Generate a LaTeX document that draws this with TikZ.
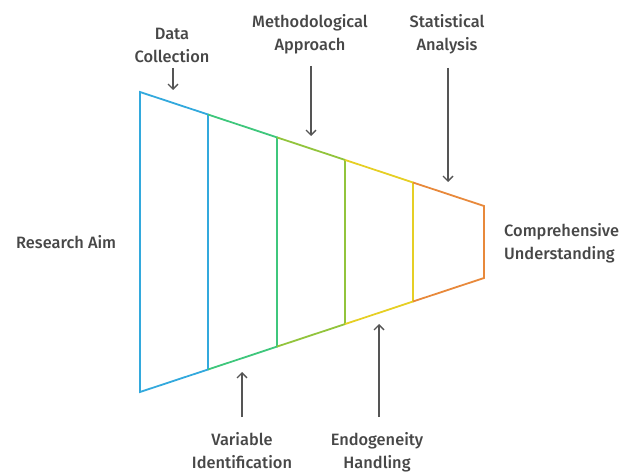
\documentclass[tikz,border=0pt]{standalone}
\usepackage{fontspec}
\setmainfont{Fira Sans}[UprightFont={* Medium}]
\usetikzlibrary{arrows.meta}
\definecolor{cA}{HTML}{33A9DD}
\definecolor{cB}{HTML}{3FC77C}
\definecolor{cC}{HTML}{92C43C}
\definecolor{cD}{HTML}{E6CF25}
\definecolor{cE}{HTML}{E8893B}
\definecolor{txt}{HTML}{474747}
\definecolor{arrowgray}{HTML}{555555}
\begin{document}
\begin{tikzpicture}[x=1pt,y=-1pt,
  lbl/.style={text=txt,font=\fontsize{16.4}{23}\selectfont,align=center,inner sep=0pt},
  pointer/.style={draw=arrowgray,line width=1.4pt,-{Straight Barb[length=5pt,width=10pt]}},
  edge/.style={line width=1.8pt,line join=miter}]
\useasboundingbox (0,0) rectangle (634,473);
% funnel corners
\coordinate (t0) at (140,92);    \coordinate (b0) at (140,392);
\coordinate (t1) at (208,114.5); \coordinate (b1) at (208,369.5);
\coordinate (t2) at (277,137.4); \coordinate (b2) at (277,346.6);
\coordinate (t3) at (345,159.9); \coordinate (b3) at (345,324.1);
\coordinate (t4) at (413,182.5); \coordinate (b4) at (413,301.5);
\coordinate (t5) at (484,206);   \coordinate (b5) at (484,278);
% funnel stages
\draw[edge,cA] (b0) -- (t0) -- (t1) -- (b1) -- cycle;
\draw[edge,cB] (t1) -- (t2) -- (b2) -- (b1);
\draw[edge,cC] (t2) -- (t3) -- (b3) -- (b2);
\draw[edge,cD] (t3) -- (t4) -- (b4) -- (b3);
\draw[edge,cE] (t4) -- (t5) -- (b5) -- (b4);
% labels
\node[lbl,anchor=west] (aim) at (16,242) {Research Aim};
\node[lbl,align=left,anchor=west] (cu) at (504,243) {Comprehensive\\Understanding};
\node[lbl,anchor=south] (dc) at (172,62.5) {Data\\Collection};
\node[lbl,anchor=south] (ma) at (310,54) {Methodological\\Approach};
\node[lbl,anchor=south] (sa) at (447,54) {Statistical\\Analysis};
\node[lbl,anchor=north] (vi) at (242,432) {Variable\\Identification};
\node[lbl,anchor=north] (eh) at (377,432) {Endogeneity\\Handling};
% pointer arrows
\coordinate (dcS) at (173,68);  \coordinate (dcE) at (173,90);
\coordinate (maS) at (311,66);  \coordinate (maE) at (311,136);
\coordinate (saS) at (448,68);  \coordinate (saE) at (448,182);
\coordinate (viS) at (242,417); \coordinate (viE) at (242,372);
\coordinate (ehS) at (379,417); \coordinate (ehE) at (379,324);
\draw[pointer] (dcS) -- (dcE);
\draw[pointer] (maS) -- (maE);
\draw[pointer] (saS) -- (saE);
\draw[pointer] (viS) -- (viE);
\draw[pointer] (ehS) -- (ehE);
\end{tikzpicture}
\end{document}
